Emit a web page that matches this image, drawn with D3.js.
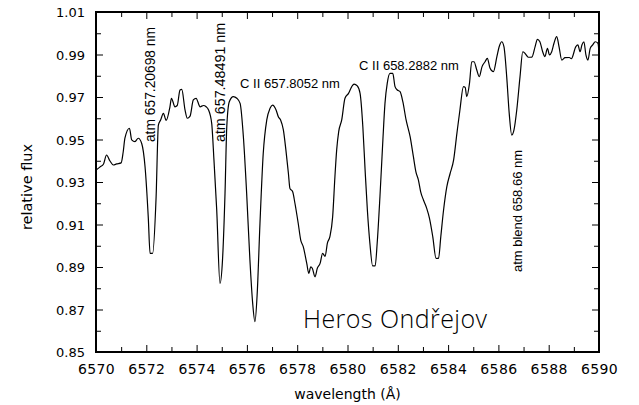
<!DOCTYPE html>
<html><head><meta charset="utf-8">
<script src="https://cdn.jsdelivr.net/npm/d3@7"></script>
<style>html,body{margin:0;padding:0;background:#fff;}svg{display:block;}</style>
</head><body>
<script>
const wavelength = [6570.00,6570.15,6570.30,6570.42,6570.55,6570.69,6570.82,6571.00,6571.08,6571.15,6571.33,6571.42,6571.55,6571.68,6571.82,6571.95,6572.08,6572.15,6572.25,6572.39,6572.48,6572.57,6572.68,6572.79,6572.94,6573.00,6573.14,6573.23,6573.34,6573.41,6573.54,6573.63,6573.74,6573.87,6573.98,6574.14,6574.27,6574.38,6574.47,6574.60,6574.69,6574.80,6574.93,6575.03,6575.13,6575.20,6575.30,6575.46,6575.60,6575.73,6575.86,6575.99,6576.12,6576.23,6576.32,6576.41,6576.52,6576.65,6576.79,6576.92,6577.02,6577.16,6577.25,6577.34,6577.45,6577.55,6577.65,6577.71,6577.82,6577.91,6578.04,6578.14,6578.24,6578.38,6578.46,6578.54,6578.60,6578.71,6578.80,6578.91,6579.01,6579.11,6579.20,6579.30,6579.41,6579.50,6579.57,6579.65,6579.77,6579.90,6580.04,6580.17,6580.26,6580.39,6580.50,6580.61,6580.70,6580.79,6580.89,6581.00,6581.10,6581.18,6581.29,6581.40,6581.49,6581.58,6581.69,6581.80,6581.89,6581.98,6582.09,6582.20,6582.33,6582.49,6582.62,6582.72,6582.82,6582.91,6583.02,6583.15,6583.26,6583.39,6583.52,6583.62,6583.71,6583.82,6583.95,6584.08,6584.22,6584.35,6584.47,6584.61,6584.68,6584.74,6584.85,6584.94,6585.03,6585.14,6585.24,6585.35,6585.47,6585.56,6585.67,6585.80,6585.94,6586.04,6586.13,6586.22,6586.33,6586.43,6586.53,6586.62,6586.73,6586.86,6586.97,6587.06,6587.19,6587.33,6587.46,6587.55,6587.65,6587.76,6587.85,6587.95,6588.03,6588.12,6588.21,6588.32,6588.41,6588.52,6588.65,6588.82,6588.90,6589.08,6589.16,6589.25,6589.32,6589.40,6589.48,6589.56,6589.65,6589.75,6589.85,6589.96,6590.00];
const flux = [0.9356,0.9370,0.9385,0.9427,0.9400,0.9380,0.9385,0.9390,0.9440,0.9506,0.9553,0.9498,0.9490,0.9506,0.9480,0.9372,0.9130,0.8964,0.8964,0.9230,0.9568,0.9592,0.9623,0.9590,0.9654,0.9694,0.9654,0.9660,0.9733,0.9736,0.9639,0.9600,0.9610,0.9686,0.9694,0.9654,0.9660,0.9654,0.9640,0.9576,0.9404,0.9168,0.8823,0.8933,0.9247,0.9560,0.9678,0.9702,0.9694,0.9670,0.9513,0.9247,0.8933,0.8729,0.8643,0.8776,0.9106,0.9435,0.9592,0.9647,0.9662,0.9639,0.9607,0.9592,0.9545,0.9451,0.9341,0.9270,0.9254,0.9200,0.9106,0.9027,0.8996,0.8917,0.8870,0.8901,0.8894,0.8854,0.8894,0.8917,0.8964,0.8950,0.9012,0.9043,0.9137,0.9325,0.9451,0.9537,0.9592,0.9694,0.9717,0.9749,0.9761,0.9752,0.9717,0.9560,0.9356,0.9168,0.9012,0.8905,0.8905,0.9012,0.9231,0.9482,0.9670,0.9764,0.9811,0.9811,0.9749,0.9733,0.9725,0.9678,0.9592,0.9513,0.9419,0.9348,0.9309,0.9254,0.9215,0.9176,0.9129,0.9043,0.8941,0.8941,0.9043,0.9168,0.9278,0.9340,0.9404,0.9529,0.9639,0.9749,0.9745,0.9702,0.9764,0.9866,0.9866,0.9827,0.9796,0.9843,0.9866,0.9882,0.9835,0.9819,0.9890,0.9940,0.9960,0.9937,0.9796,0.9623,0.9521,0.9545,0.9639,0.9796,0.9913,0.9905,0.9887,0.9888,0.9937,0.9971,0.9960,0.9913,0.9890,0.9929,0.9898,0.9913,0.9953,0.9984,0.9937,0.9874,0.9885,0.9886,0.9880,0.9937,0.9945,0.9913,0.9945,0.9960,0.9898,0.9874,0.9929,0.9945,0.9960,0.9953,0.9905];

const xTickLabels = [6570,6572,6574,6576,6578,6580,6582,6584,6586,6588,6590];
const xMinorTicks = [6571,6573,6575,6577,6579,6581,6583,6585,6587,6589];
const yTickLabels = [0.85,0.87,0.89,0.91,0.93,0.95,0.97,0.99,1.01];
const yMinorTicks = [0.86,0.88,0.90,0.92,0.94,0.96,0.98,1.00];

const annotations = [
  {text:"atm 657.20698 nm", wl:6572.2, v:0.9488, rot:true, size:13.8},
  {text:"atm 657.48491 nm", wl:6574.97, v:0.9488, rot:true, size:14.3},
  {text:"C II 657.8052 nm", wl:6575.73, v:0.9742, rot:false, size:13},
  {text:"C II 658.2882 nm", wl:6580.46, v:0.9827, rot:false, size:13},
  {text:"atm blend 658.66 nm", wl:6586.76, v:0.8876, rot:true, size:13}
];

const W = 639, H = 405;
const m = {left:96, right:40, top:12, bottom:53};
const svg = d3.select("body").append("svg").attr("width",W).attr("height",H);

const x = d3.scaleLinear().domain([6570,6590]).range([m.left, W-m.right]);
const y = d3.scaleLinear().domain([0.85,1.01]).range([H-m.bottom, m.top]);

svg.append("defs").append("clipPath").attr("id","clip")
  .append("rect").attr("x",m.left).attr("y",m.top)
  .attr("width",W-m.right-m.left).attr("height",H-m.bottom-m.top);

const pts = wavelength.map((w,i)=>[w,flux[i]]);
svg.append("path").datum(pts)
  .attr("clip-path","url(#clip)")
  .attr("fill","none").attr("stroke","#000").attr("stroke-width",1.2)
  .attr("d", d3.line().x(d=>x(d[0])).y(d=>y(d[1])).curve(d3.curveMonotoneX));

const fmt = d3.format(".2f");
const gB = svg.append("g").attr("transform",`translate(0,${H-m.bottom})`);
gB.call(d3.axisBottom(x).tickValues(xTickLabels).tickSizeInner(-7).tickSizeOuter(0).tickPadding(12).tickFormat(d3.format("d")));
gB.append("g").call(d3.axisBottom(x).tickValues(xMinorTicks).tickSizeInner(-5).tickSizeOuter(0).tickFormat(""));
const gT = svg.append("g").attr("transform",`translate(0,${m.top})`);
gT.call(d3.axisTop(x).tickValues(xTickLabels).tickSizeInner(-7).tickSizeOuter(0).tickFormat(""));
gT.append("g").call(d3.axisTop(x).tickValues(xMinorTicks).tickSizeInner(-5).tickSizeOuter(0).tickFormat(""));
const gL = svg.append("g").attr("transform",`translate(${m.left},0)`);
gL.call(d3.axisLeft(y).tickValues(yTickLabels).tickSizeInner(-7).tickSizeOuter(0).tickPadding(11).tickFormat(fmt));
gL.append("g").call(d3.axisLeft(y).tickValues(yMinorTicks).tickSizeInner(-5).tickSizeOuter(0).tickFormat(""));
const gR = svg.append("g").attr("transform",`translate(${W-m.right},0)`);
gR.call(d3.axisRight(y).tickValues(yTickLabels).tickSizeInner(-7).tickSizeOuter(0).tickFormat(""));
gR.append("g").call(d3.axisRight(y).tickValues(yMinorTicks).tickSizeInner(-5).tickSizeOuter(0).tickFormat(""));
[gB,gT,gL,gR].forEach(g=>{ g.selectAll(".domain").remove(); g.selectAll("line").attr("stroke","#000"); });
gB.selectAll("text").attr("font-family","DejaVu Sans").attr("font-size",14).attr("fill","#000").attr("letter-spacing",0.4);
gL.selectAll("text").attr("font-family","DejaVu Sans").attr("font-size",13).attr("fill","#000").attr("dy","0.35em");

svg.append("rect").attr("x",m.left).attr("y",m.top)
  .attr("width",W-m.right-m.left).attr("height",H-m.bottom-m.top)
  .attr("fill","none").attr("stroke","#000").attr("stroke-width",2);

svg.append("text").attr("x",(m.left+W-m.right)/2).attr("y",399)
  .attr("text-anchor","middle").attr("font-family","DejaVu Sans").attr("font-size",14)
  .text("wavelength (Å)");
svg.append("text").attr("transform","translate(32,187) rotate(-90)")
  .attr("text-anchor","middle").attr("font-family","DejaVu Sans").attr("font-size",14.5)
  .text("relative flux");

annotations.forEach(a=>{
  const t = svg.append("text").attr("font-family","Liberation Sans, Arial, sans-serif").attr("font-size",a.size).attr("fill","#000").text(a.text);
  if (a.rot) t.attr("transform",`translate(${x(a.wl)+4},${y(a.v)}) rotate(-90)`);
  else t.attr("x",x(a.wl)).attr("y",y(a.v));
});

svg.append("text").attr("x",303).attr("y",328)
  .attr("font-family","Open Sans, Lato, sans-serif").attr("font-weight",300).attr("font-size",25)
  .attr("fill","#000").attr("textLength",184).attr("lengthAdjust","spacing")
  .text("Heros Ondřejov");
</script>
</body></html>
